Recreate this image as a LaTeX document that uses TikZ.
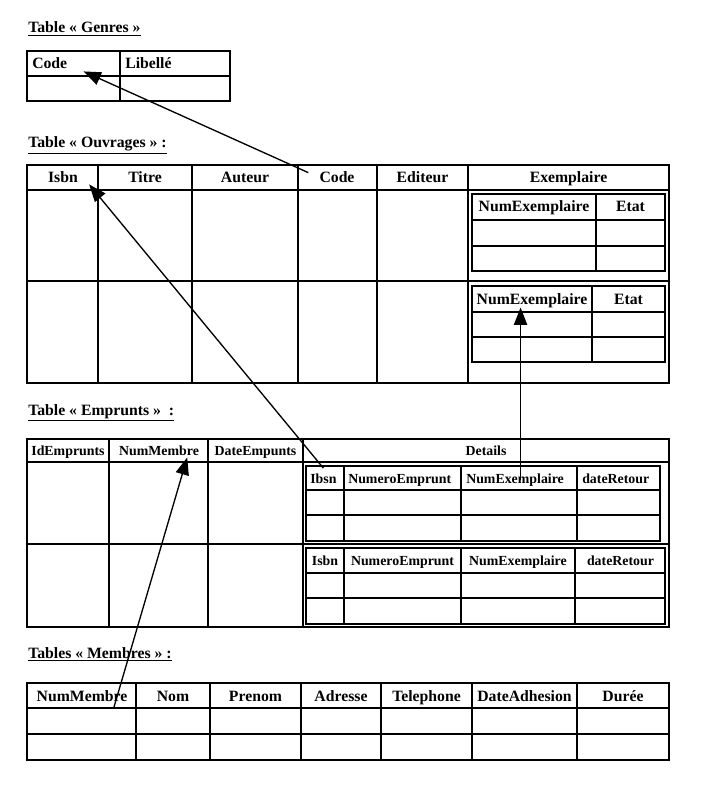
\documentclass[tikz,border=0pt]{standalone}
\usepackage{fontspec}
\setmainfont{Liberation Serif}
\usetikzlibrary{arrows.meta}
\usetikzlibrary{calc}
\tikzset{grid/.style={line width=0.85pt, color=black},
	hd/.style={inner sep=0pt, font=\fontsize{11.8}{14}\selectfont\bfseries, anchor=base},
	hdl/.style={hd, anchor=base west},
	sm/.style={hd, font=\fontsize{10.4}{12}\selectfont\bfseries},
	sml/.style={sm, anchor=base west},
	fk/.style={line width=1pt, -{Triangle[length=13pt,width=10pt]}}}

\begin{document}
\begin{tikzpicture}[x=0.75pt, y=-0.75pt]
		\useasboundingbox (0,0) rectangle (703,798);
		
		% Genres
		\node[hdl] (tGenres) at (28,33) {\underline{Table « Genres »}};
		\draw[grid] (27,51) rectangle (230,101) (27,76) -- (230,76) (120,51) -- (120,101);
		\node[hdl] (gCode) at (32,69) {Code};
		\node[hdl] (gLib) at (125,69) {Libellé};
		
		% Ouvrages
		\node[hdl] (tOuvr) at (28,148) {\underline{Table « Ouvrages » :}};
		\draw[grid] (27,165) rectangle (669,383) (27,190) -- (669,190) (27,281) -- (669,281);
		\draw[grid] (98,165) -- (98,383) (192,165) -- (192,383) (298,165) -- (298,383) (377,165) -- (377,383) (468,165) -- (468,383);
		\draw[grid] (472,194) rectangle (665,271) (472,220) -- (665,220) (472,246) -- (665,246) (596,194) -- (596,271);
		\draw[grid] (472,286) rectangle (665,362) (472,312) -- (665,312) (472,337) -- (665,337) (592,286) -- (592,362);
		\node[hd] (oIsbn) at (63,183) {Isbn};
		\node[hd] (oTitre) at (145,183) {Titre};
		\node[hd] (oAuteur) at (245,183) {Auteur};
		\node[hd] (oCode) at (337,183) {Code};
		\node[hd] (oEditeur) at (422.5,183) {Editeur};
		\node[hd] (oExemp) at (568.5,183) {Exemplaire};
		\node[hd] (oNumExA) at (534,212) {NumExemplaire};
		\node[hd] (oEtatA) at (630.5,212) {Etat};
		\node[hd] (oNumEx) at (532,304) {NumExemplaire};
		\node[hd] (oEtat) at (628.5,304) {Etat};
		
		% Emprunts
		\node[hdl] (tEmpr) at (28,415) {\underline{Table « Emprunts »\ \ :}};
		\draw[grid] (27,439) rectangle (669,627) (27,462) -- (669,462) (27,544) -- (669,544);
		\draw[grid] (109,439) -- (109,627) (208,439) -- (208,627) (303,439) -- (303,627);
		\draw[grid] (306,466) rectangle (660,541) (306,490) -- (660,490) (306,515) -- (660,515) (344,466) -- (344,541) (461,466) -- (461,541) (577,466) -- (577,541);
		\draw[grid] (306,548) rectangle (665,624) (306,573) -- (665,573) (306,598) -- (665,598) (344,548) -- (344,624) (461,548) -- (461,624) (575,548) -- (575,624);
		\node[sm] (eId) at (68,455) {IdEmprunts};
		\node[sm] (eNumMembre) at (159,455) {NumMembre};
		\node[sm] (eDate) at (255.5,455) {DateEmpunts};
		\node[sm] (eDetails) at (486,455) {Details};
		\node[sml] (eIbsn) at (310,483) {Ibsn};
		\node[sml] (eNumEmpA) at (348,483) {NumeroEmprunt};
		\node[sml] (eNumEx) at (466,483) {NumExemplaire};
		\node[sml] (eRetourA) at (582,483) {dateRetour};
		\node[sm] (eIsbn) at (325,565) {Isbn};
		\node[sm] (eNumEmp) at (402.5,565) {NumeroEmprunt};
		\node[sm] (eNumExB) at (518,565) {NumExemplaire};
		\node[sm] (eRetour) at (620.5,565) {dateRetour};
		
		% Membres
		\node[hdl] (tMemb) at (28,658) {\underline{Tables « Membres » :}};
		\draw[grid] (27,683) rectangle (669,760) (27,708) -- (669,708) (27,734) -- (669,734);
		\draw[grid] (136,683) -- (136,760) (210,683) -- (210,760) (301,683) -- (301,760) (381,683) -- (381,760) (472,683) -- (472,760) (577,683) -- (577,760);
		\node[hd] (mNumMembre) at (82,701) {NumMembre};
		\node[hd] (mNom) at (173,701) {Nom};
		\node[hd] (mPrenom) at (255.5,701) {Prenom};
		\node[hd] (mAdresse) at (341,701) {Adresse};
		\node[hd] (mTel) at (426.5,701) {Telephone};
		\node[hd] (mDate) at (524.5,701) {DateAdhesion};
		\node[hd] (mDuree) at (623,701) {Durée};
		
		% references
		\draw[fk] ([shift={(-11,-5)}]oCode.west) -- ([shift={(16,2)}]gCode.south east);
		\draw[fk] ([shift={(0,-5)}]eIbsn.north) -- ([shift={(11,1)}]oIsbn.south east);
		\draw[fk] ($(eNumEx.center)+(5.5,0)$) -- ($(eNumEx.center |- oNumEx.south)+(5.5,0)$);
		\draw[fk] ([shift={(-14,7)}]mNumMembre.south east) -- ([shift={(-12,2)}]eNumMembre.south east);
	\end{tikzpicture}
\end{document}
